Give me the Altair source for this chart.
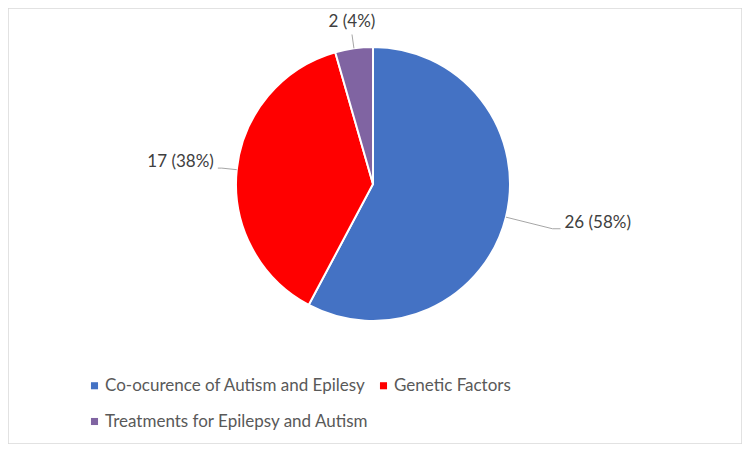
import altair as alt
import pandas as pd
import numpy as np

# ---- data ----
categories = ["Co-ocurence of Autism and Epilesy", "Genetic Factors", "Treatments for Epilepsy and Autism"]
counts = [26, 17, 2]
colors = ["#4472C4", "#FF0000", "#8064A2"]

# ---- layout constants ----
W, H = 734, 436
CX, CY = 365, 176
R = 137
leader_len = [48, 15, 14]
tick_len = [8, 4, 0]
FONT = "Lato"

total = sum(counts)
df = pd.DataFrame({"cat": categories, "count": counts, "order": range(len(counts))})
df["label"] = [f"{c} ({round(100 * c / total)}%)" for c in counts]
cum = np.cumsum(counts)
mid = (cum - np.array(counts) / 2) / total * 2 * np.pi
s, c = np.sin(mid), np.cos(mid)
r2 = R + np.array(leader_len)
df["x0"] = CX + R * s
df["y0"] = CY - R * c
df["x1"] = CX + r2 * s
df["y1"] = CY - r2 * c
sign = np.where(s > 0.3, 1, np.where(s < -0.3, -1, 0))
df["x2"] = df["x1"] + sign * np.array(tick_len)
df["y2"] = df["y1"]
df["side"] = np.where(sign > 0, "left", np.where(sign < 0, "right", "top"))
df["tx"] = df["x2"] + sign * 4
df["ty"] = np.where(sign == 0, df["y1"] - 3, df["y1"] - 6)

segs = pd.concat([
    df[["x0", "y0", "x1", "y1"]].rename(columns={"x0": "a", "y0": "b", "x1": "c", "y1": "d"}),
    df[["x1", "y1", "x2", "y2"]].rename(columns={"x1": "a", "y1": "b", "x2": "c", "y2": "d"}),
])

base = alt.Chart(df)

pie = base.mark_arc(outerRadius=R, stroke="white", strokeWidth=2).encode(
    theta=alt.Theta("count:Q", stack=True),
    order=alt.Order("order:Q"),
    x=alt.value(CX),
    y=alt.value(CY),
    color=alt.Color(
        "cat:N",
        scale=alt.Scale(domain=categories, range=colors),
        legend=alt.Legend(
            title=None,
            orient="none",
            legendX=78,
            legendY=369,
            direction="horizontal",
            columns=2,
            symbolType="square",
            symbolSize=50,
            symbolStrokeWidth=0,
            labelFont=FONT,
            labelFontSize=17,
            labelColor="#595959",
            labelOffset=2,
            rowPadding=18,
            columnPadding=6,
            labelLimit=400,
        ),
    ),
)

lines = alt.Chart(segs).mark_rule(color="#A6A6A6", strokeWidth=1).encode(
    x=alt.X("a:Q", scale=None),
    y=alt.Y("b:Q", scale=None),
    x2="c:Q",
    y2="d:Q",
)

def label_layer(side, align, baseline):
    return base.transform_filter(alt.datum.side == side).mark_text(
        align=align, baseline=baseline, font=FONT, fontSize=17, color="#404040"
    ).encode(
        x=alt.X("tx:Q", scale=None),
        y=alt.Y("ty:Q", scale=None),
        text="label:N",
    )

chart = alt.layer(
    pie,
    lines,
    label_layer("left", "left", "middle"),
    label_layer("right", "right", "middle"),
    label_layer("top", "center", "bottom"),
).properties(
    width=W, height=H, padding=0, autosize="none"
).configure_view(stroke="#D9D9D9", strokeWidth=1.5)

chart.save("out.html", embed_options={"renderer": "svg", "actions": False})
